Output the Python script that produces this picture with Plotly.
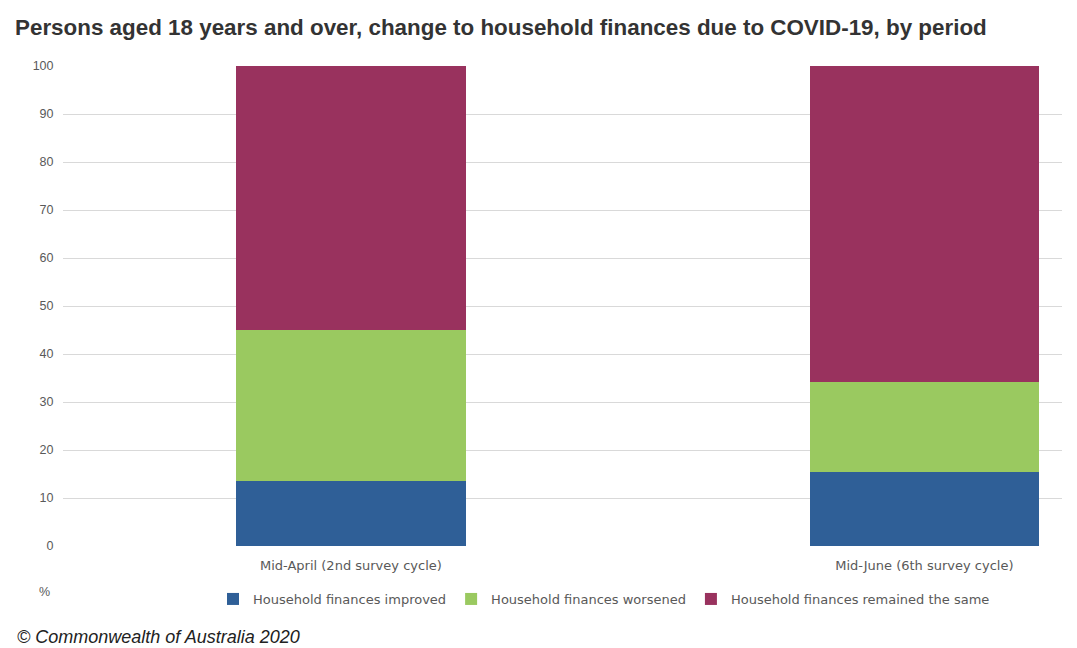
import plotly.graph_objects as go

categories = ["Mid-April (2nd survey cycle)", "Mid-June (6th survey cycle)"]
improved = [13.5, 15.5]
worsened = [31.4, 18.7]
same = [55.1, 65.8]
series_names = ["Household finances improved", "Household finances worsened",
                "Household finances remained the same"]
colors = ["#2F5F97", "#9AC960", "#99325E"]
y_ticks = [0, 10, 20, 30, 40, 50, 60, 70, 80, 90, 100]

# page body has an 8px margin: work in reference pixels, shift by OFF
OFF = 8
W, H = 1077 - OFF, 648 - OFF
L, R, T, B = 63 - OFF, 15, 66 - OFF, 102
pw, ph = W - L - R, H - T - B

def px_x(px):
    return (px - OFF - L) / pw

def px_y(py):
    return (H - B - (py - OFF)) / ph

fig = go.Figure()
for name, vals, col in zip(series_names, [improved, worsened, same], colors):
    fig.add_trace(go.Bar(x=categories, y=vals, name=name, marker_color=col,
                         marker_line_width=0, width=0.40))

fig.update_layout(
    width=W, height=H, barmode="stack",
    margin=dict(l=L, r=R, t=T, b=B),
    plot_bgcolor="white", paper_bgcolor="white",
    font=dict(family="Liberation Sans, Arial, sans-serif", color="#595959", size=12),
    title=dict(text="<b>Persons aged 18 years and over, change to household finances due to COVID-19, by period</b>",
               x=(15 - OFF) / W, xanchor="left", xref="container",
               y=1 - (27 - OFF) / H, yanchor="middle", yref="container",
               font=dict(size=22.4, color="#333333", family="Liberation Sans, Arial, sans-serif")),
    xaxis=dict(range=[-0.502, 1.24], showgrid=False, showline=False, zeroline=False,
               ticks="outside", ticklen=7, tickcolor="rgba(0,0,0,0)",
               tickfont=dict(size=13, color="#595959", family="DejaVu Sans, sans-serif")),
    yaxis=dict(range=[0, 100], tickvals=y_ticks, showgrid=True, gridcolor="#D9D9D9",
               gridwidth=1, zeroline=False, showline=False,
               ticks="outside", ticklen=6, tickcolor="rgba(0,0,0,0)",
               tickfont=dict(size=12.5, color="#595959")),
    legend=dict(orientation="h", x=px_x(213), xanchor="left", y=px_y(599), yanchor="middle",
                font=dict(size=13, color="#595959", family="DejaVu Sans, sans-serif"),
                itemwidth=30, traceorder="normal"),
    showlegend=True,
)

fig.add_annotation(text="%", xref="paper", yref="paper", x=px_x(52), y=px_y(592),
                   xanchor="right", yanchor="middle", showarrow=False,
                   font=dict(size=12.5, color="#595959"))
fig.add_annotation(text="<i>© Commonwealth of Australia 2020</i>", xref="paper", yref="paper",
                   x=px_x(15), y=px_y(637), xanchor="left", yanchor="middle", showarrow=False,
                   font=dict(size=18, color="#222222"))

fig.write_html("out.html")
